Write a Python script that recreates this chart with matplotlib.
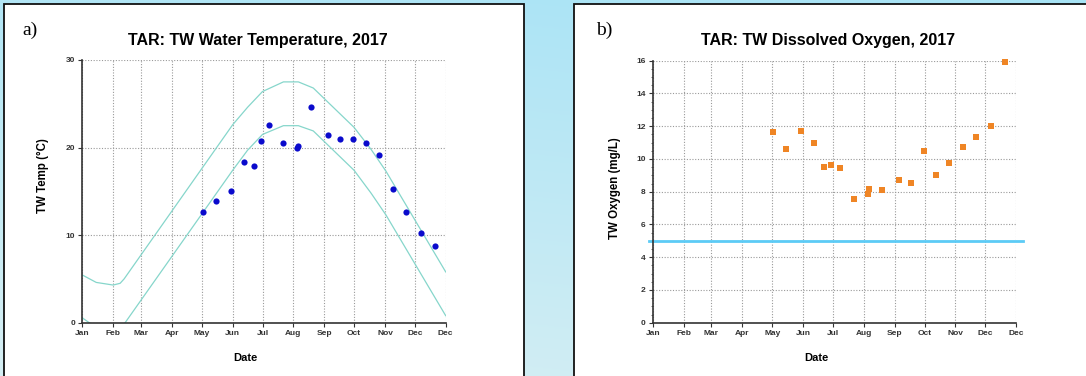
import numpy as np
import pandas as pd
import matplotlib
matplotlib.use("Agg")
import matplotlib.pyplot as plt
from matplotlib.patches import Rectangle
import matplotlib.dates as mdates

plt.rcParams['font.family'] = ['Liberation Sans', 'DejaVu Sans']

# ---------------- data ----------------
sample_dates = ["2017-05-02", "2017-05-15", "2017-05-30", "2017-06-12", "2017-06-22",
                "2017-06-29", "2017-07-08", "2017-07-22", "2017-08-05", "2017-08-06",
                "2017-08-19", "2017-09-05", "2017-09-17", "2017-09-30", "2017-10-13",
                "2017-10-26", "2017-11-09", "2017-11-22", "2017-12-07", "2017-12-21"]
water_temp = [12.6, 13.9, 15.0, 18.4, 17.9, 20.7, 22.6, 20.5, 20.0, 20.2,
              24.6, 21.4, 21.0, 21.0, 20.5, 19.2, 15.3, 12.6, 10.3, 8.8]
dissolved_oxygen = [11.66, 10.6, 11.7, 10.95, 9.5, 9.65, 9.43, 7.57, 7.86, 8.15,
                    8.08, 8.71, 8.51, 10.49, 9.04, 9.73, 10.73, 11.34, 12.01, 15.9]

upper_dates = ["2017-01-01", "2017-01-15", "2017-02-01", "2017-02-08", "2017-02-12",
               "2017-06-01", "2017-06-16", "2017-07-01", "2017-07-22", "2017-08-06",
               "2017-08-21", "2017-10-01", "2017-10-18", "2017-11-02", "2018-01-01"]
upper_temp = [5.45, 4.6, 4.3, 4.5, 5.0, 22.6, 24.6, 26.4, 27.5, 27.5,
              26.8, 22.3, 19.8, 17.3, 5.8]
lower_dates = ["2017-01-01", "2017-01-08", "2017-01-15", "2017-02-01", "2017-02-08",
               "2017-02-13", "2017-06-01", "2017-06-16", "2017-07-01", "2017-07-22",
               "2017-08-06", "2017-08-21", "2017-10-01", "2017-10-18", "2017-11-02",
               "2018-01-01"]
lower_temp = [0.55, 0.0, -0.4, -0.7, -0.5, 0.0, 17.4, 19.7, 21.5, 22.5,
              22.5, 21.9, 17.4, 14.8, 12.3, 0.8]

do_standard = 5.0

tick_dates = ["2017-01-01", "2017-02-01", "2017-03-01", "2017-04-01", "2017-05-01",
              "2017-06-01", "2017-07-01", "2017-08-01", "2017-09-01", "2017-10-01",
              "2017-11-01", "2017-12-01", "2018-01-01"]
tick_labels = ["Jan", "Feb", "Mar", "Apr", "May", "Jun", "Jul", "Aug", "Sep", "Oct",
               "Nov", "Dec", "Dec"]

temp_ticks = [0, 10, 20, 30]
do_ticks = [0, 2, 4, 6, 8, 10, 12, 14, 16]

# ---------------- figure ----------------
W, H = 1086, 376
fig = plt.figure(figsize=(W / 100, H / 100), dpi=100)

# gradient background
bg = fig.add_axes([0, 0, 1, 1], zorder=-10)
top = np.array(matplotlib.colors.to_rgb("#a7e3f6"))
bot = np.array(matplotlib.colors.to_rgb("#d4eef3"))
yy = np.linspace(0, 1, 200)[:, None]
xx = np.linspace(0, 1, 200)[None, :]
t = np.clip(0.8 * yy + 0.25 * (1 - xx), 0, 1)
img = top[None, None, :] * (1 - t[..., None]) + bot[None, None, :] * t[..., None]
bg.imshow(img, aspect='auto', extent=[0, 1, 0, 1], origin='upper')
bg.set_axis_off()

# white panels with black border
for x0, x1 in [(4, 524), (574, 1095)]:
    fig.patches.append(Rectangle((x0 / W, -0.02), (x1 - x0) / W, (H - 4) / H + 0.02,
                                 transform=fig.transFigure, facecolor='white',
                                 edgecolor='#111111', linewidth=1.3, zorder=-5))

fig.text(22 / W, 1 - 30 / H, "a)", family=['Liberation Serif', 'DejaVu Serif'],
         fontsize=14, va='center', ha='left')
fig.text(596 / W, 1 - 30 / H, "b)", family=['Liberation Serif', 'DejaVu Serif'],
         fontsize=14, va='center', ha='left')

tick_nums = mdates.datestr2num(tick_dates)
xlim = (tick_nums[0], tick_nums[-1])


def style_axes(ax, yticks, ylabel, title, ylabel_x, ylabel_y):
    ax.set_xlim(*xlim)
    ax.set_ylim(yticks[0], yticks[-1])
    ax.set_xticks(tick_nums)
    ax.set_xticklabels(tick_labels)
    ax.set_yticks(yticks)
    ax.set_yticklabels([str(v) for v in yticks])
    for s in ['top', 'right']:
        ax.spines[s].set_visible(False)
    for s in ['left', 'bottom']:
        ax.spines[s].set_color('#333333')
        ax.spines[s].set_linewidth(1.2)
    ax.grid(True, which='major', color='#9a9a9a', linestyle=(0, (1, 1.5)), linewidth=0.8)
    ax.set_axisbelow(True)
    ax.tick_params(axis='both', which='major', length=3, width=0.8, color='#333333',
                   labelsize=6, labelcolor='#333333', pad=2)
    for lab in ax.get_xticklabels() + ax.get_yticklabels():
        lab.set_fontweight('bold')
    ax.set_xlabel("Date", fontsize=8, fontweight='bold')
    ax.xaxis.set_label_coords(0.45, -0.115)
    ax.set_ylabel(ylabel, fontsize=8.3, fontweight='bold')
    ax.yaxis.set_label_coords(ylabel_x, ylabel_y)
    ax.set_title(title, fontsize=11.5, fontweight='bold', x=0.483, y=1.0, pad=11)


# panel a
ax1 = fig.add_axes([82.3 / W, 53.3 / H, 363.4 / W, 262.7 / H])
ax1.plot(mdates.datestr2num(upper_dates), upper_temp, color='#86d6cb', linewidth=0.9)
ax1.plot(mdates.datestr2num(lower_dates), lower_temp, color='#86d6cb', linewidth=0.9)
ax1.scatter(mdates.datestr2num(sample_dates), water_temp, s=20, color='#0a0acc',
            zorder=3, linewidths=0)
style_axes(ax1, temp_ticks, "TW Temp (\u00b0C)", "TAR: TW Water Temperature, 2017",
           -0.092, 0.56)

# panel b
ax2 = fig.add_axes([652.7 / W, 53.3 / H, 363.4 / W, 262.0 / H])
ax2.axhline(do_standard, xmin=-0.01, xmax=1.02, color='#5ccbf6', linewidth=2.0,
            clip_on=False, zorder=2)
ax2.scatter(mdates.datestr2num(sample_dates), dissolved_oxygen, s=18, marker='s',
            color='#ef8525', zorder=3, linewidths=0, clip_on=False)
style_axes(ax2, do_ticks, "TW Oxygen (mg/L)", "TAR: TW Dissolved Oxygen, 2017",
           -0.088, 0.513)
ax2.yaxis.set_minor_locator(matplotlib.ticker.MultipleLocator(0.5))
ax2.tick_params(axis='y', which='minor', length=1.5, width=0.6, color='#555555')

fig.savefig("out.png", dpi=100)
